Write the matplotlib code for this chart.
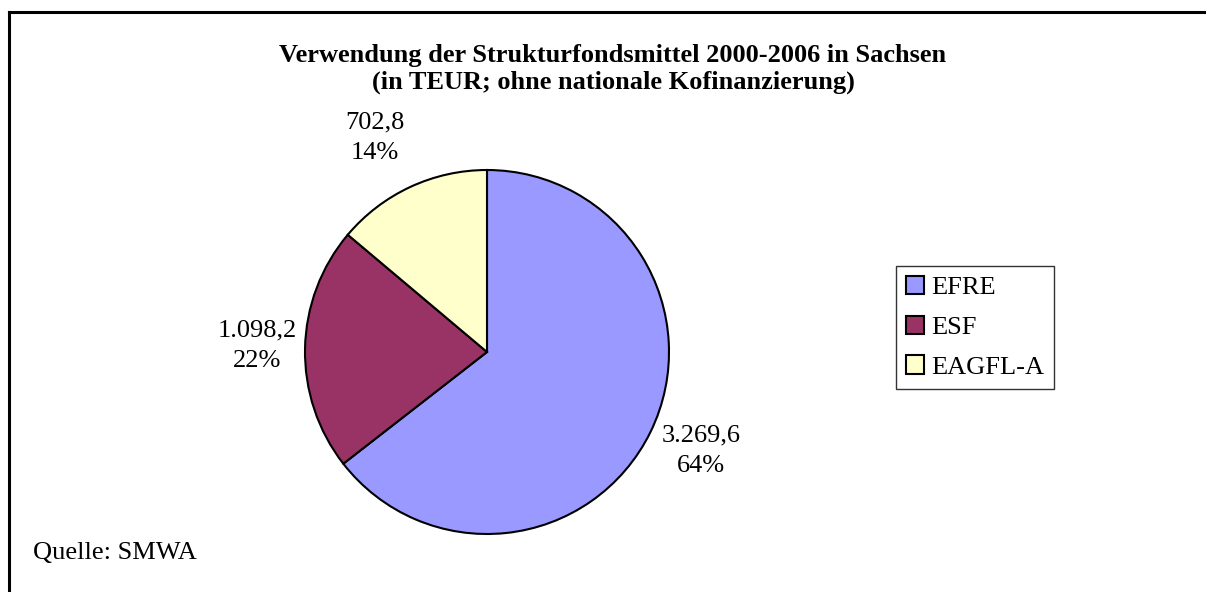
import matplotlib
matplotlib.use("Agg")
import matplotlib.pyplot as plt
from matplotlib.lines import Line2D

labels = ['EFRE', 'ESF', 'EAGFL-A']
values = [3269.6, 1098.2, 702.8]
value_texts = ['3.269,6', '1.098,2', '702,8']
colors = ['#9999FF', '#993366', '#FFFFCC']

plt.rcParams['font.family'] = ['Liberation Serif', 'DejaVu Serif']
plt.rcParams['font.size'] = 19

W, H = 1206, 592
fig = plt.figure(figsize=(W / 100, H / 100), dpi=100)

# pie center and radius in pixels
cx, cy, r = 487, 352, 182
ax = fig.add_axes([(cx - r) / W, (H - cy - r) / H, 2 * r / W, 2 * r / H])
wedges, _ = ax.pie(values, colors=colors, startangle=90, counterclock=False,
                   wedgeprops=dict(edgecolor='black', linewidth=1.5))
ax.set_xlim(-1, 1)
ax.set_ylim(-1, 1)
ax.set_axis_off()

total = sum(values)
label_pos = [(1.176, -0.544), (-1.264, 0.033), (-0.615, 1.176)]
for (x, y), vt, v in zip(label_pos, value_texts, values):
    ax.text(x, y, f"{vt}\n{round(v / total * 100)}%", ha='center', va='center',
            linespacing=1.5)

fig.text(613 / W, 1 - 69 / H,
         "Verwendung der Strukturfondsmittel 2000-2006 in Sachsen\n"
         "(in TEUR; ohne nationale Kofinanzierung)",
         ha='center', va='center', fontweight='bold', linespacing=1.2)

fig.text(33 / W, 1 - 553 / H, "Quelle: SMWA", ha='left', va='center')

leg = fig.legend(wedges, labels, loc='upper left',
                 bbox_to_anchor=(896 / W, 1 - 266 / H), borderaxespad=0,
                 frameon=True, fancybox=False,
                 handlelength=0.68, handleheight=0.68, handletextpad=0.27,
                 labelspacing=0.62, borderpad=0.38)
leg.get_frame().set_edgecolor('black')
leg.get_frame().set_linewidth(1.0)
for h in leg.legend_handles:
    h.set_edgecolor('black')
    h.set_linewidth(1.5)

# outer border (top and left edge visible)
fig.add_artist(Line2D([9 / W, 1], [1 - 12 / H, 1 - 12 / H], color='black', lw=2.2,
                      transform=fig.transFigure))
fig.add_artist(Line2D([9 / W, 9 / W], [0, 1 - 12 / H], color='black', lw=2.2,
                      transform=fig.transFigure))

plt.savefig("out.png", dpi=100)
